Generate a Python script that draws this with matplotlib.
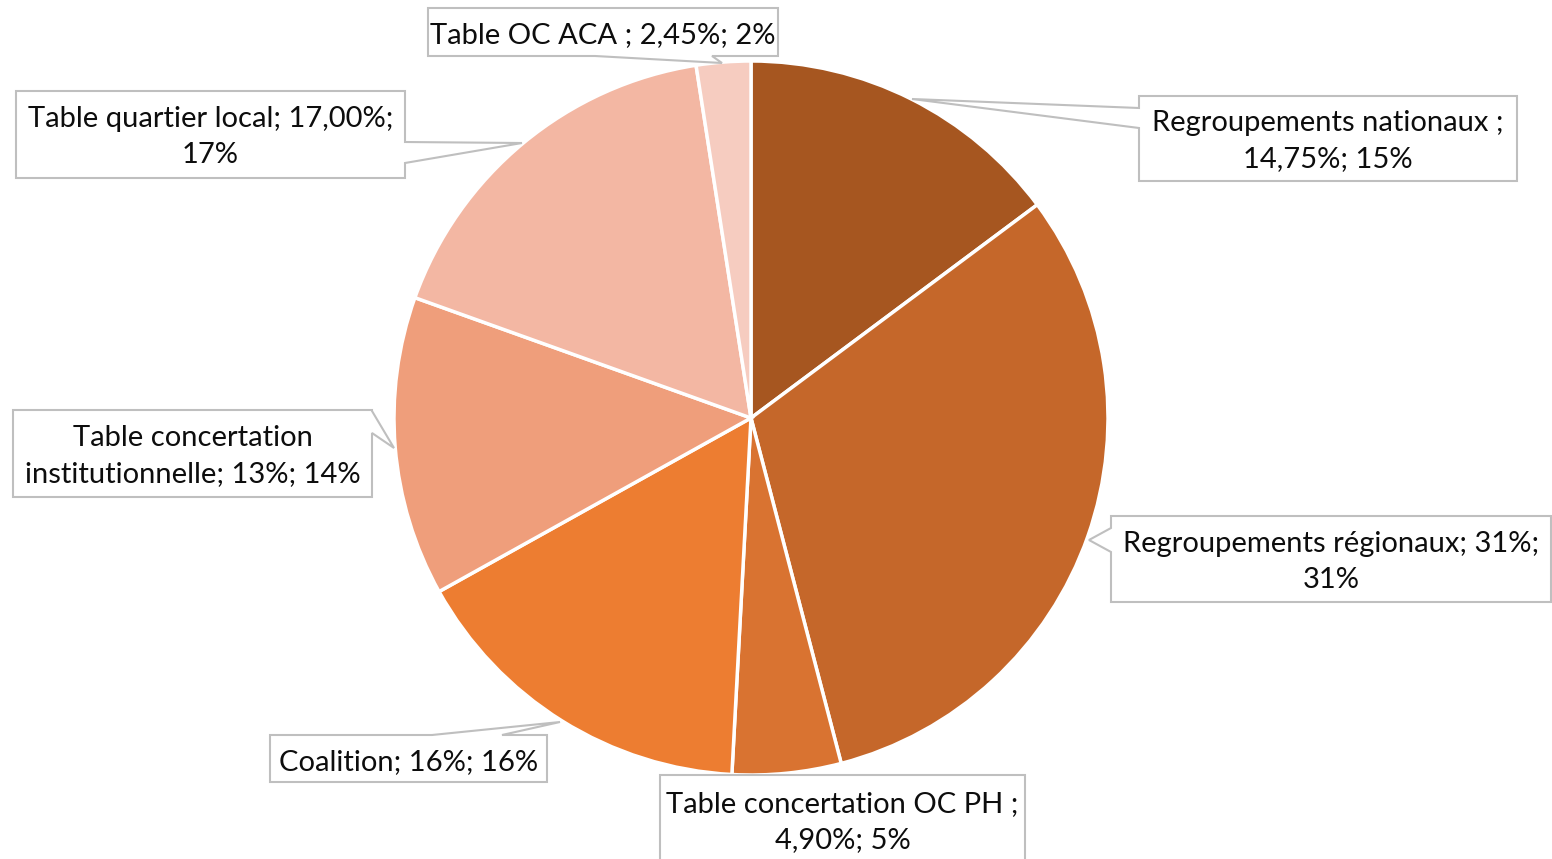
import matplotlib
matplotlib.use("Agg")
import matplotlib.pyplot as plt
from matplotlib.patches import Polygon

plt.rcParams['font.family'] = ['Lato', 'DejaVu Sans']

# ---- data ----
categories = ["Regroupements nationaux", "Regroupements régionaux", "Table concertation OC PH",
              "Coalition", "Table concertation institutionnelle", "Table quartier local", "Table OC ACA"]
values = [14.75, 31, 4.90, 16, 13.5, 17.00, 2.45]
value_labels = ["14,75%", "31%", "4,90%", "16%", "13%", "17,00%", "2,45%"]
label_texts = ["Regroupements nationaux ;\n14,75%; 15%",
               "Regroupements régionaux; 31%;\n31%",
               "Table concertation OC PH ;\n4,90%; 5%",
               "Coalition; 16%; 16%",
               "Table concertation\ninstitutionnelle; 13%; 14%",
               "Table quartier local; 17,00%;\n17%",
               "Table OC ACA ; 2,45%; 2%"]
colors = ["#A65620", "#C5672A", "#D97331", "#ED7D31", "#EF9E7B", "#F3B7A3", "#F6CCC0"]

W, H = 1552, 859
fig = plt.figure(figsize=(W / 100, H / 100), dpi=100)
ax = fig.add_axes([0, 0, 1, 1])
ax.set_xlim(0, W)
ax.set_ylim(0, H)
ax.set_aspect('equal')
ax.axis('off')

cx, cy, r = 751, H - 418, 357
ax.pie(values, colors=colors, startangle=90, counterclock=False,
       center=(cx, cy), radius=r, frame=True,
       wedgeprops=dict(edgecolor='white', linewidth=2.5))
ax.set_xlim(0, W)
ax.set_ylim(0, H)
ax.axis('off')

# callout boxes (image pixel coords): box (x0, y0, x1, y1), pointer (edge, b1, b2, tip)
boxes = [
    ((1139, 96, 1517, 181), ('left', 108, 128, (912, 99))),
    ((1111, 516, 1551, 602), ('left', 528, 552, (1089, 540))),
    ((660, 775, 1025, 905), None),
    ((270, 735, 547, 782), ('top', 432, 502, (560, 722))),
    ((13, 410, 372, 497), ('right', 411, 433, (394, 448))),
    ((16, 91, 405, 178), ('right', 142, 163, (522, 143))),
    ((428, 8, 778, 56), ('bottom', 595, 712, (722, 63))),
]
text_centers_y = [141, 562, 822, 762, 456, 137, 35]

def fy(y):
    return H - y

for (box, ptr), txt, ty in zip(boxes, label_texts, text_centers_y):
    x0, y0, x1, y1 = box
    if ptr is None:
        pts = [(x0, y0), (x1, y0), (x1, y1), (x0, y1)]
    else:
        edge, b1, b2, tip = ptr
        if edge == 'left':
            pts = [(x0, y0), (x1, y0), (x1, y1), (x0, y1), (x0, b2), tip, (x0, b1)]
        elif edge == 'right':
            pts = [(x0, y0), (x1, y0), (x1, b1), tip, (x1, b2), (x1, y1), (x0, y1)]
        elif edge == 'top':
            pts = [(x0, y0), (b1, y0), tip, (b2, y0), (x1, y0), (x1, y1), (x0, y1)]
        else:  # bottom
            pts = [(x0, y0), (x1, y0), (x1, y1), (b2, y1), tip, (b1, y1), (x0, y1)]
    poly = Polygon([(px, fy(py)) for px, py in pts], closed=True,
                   facecolor='white', edgecolor='#BFBFBF', linewidth=1.5, zorder=5)
    ax.add_patch(poly)
    ax.text((x0 + x1) / 2, fy(ty), txt, ha='center', va='center',
            fontsize=21, color='#0D0D0D', linespacing=1.44, zorder=6)

fig.savefig("out.png", dpi=100)
